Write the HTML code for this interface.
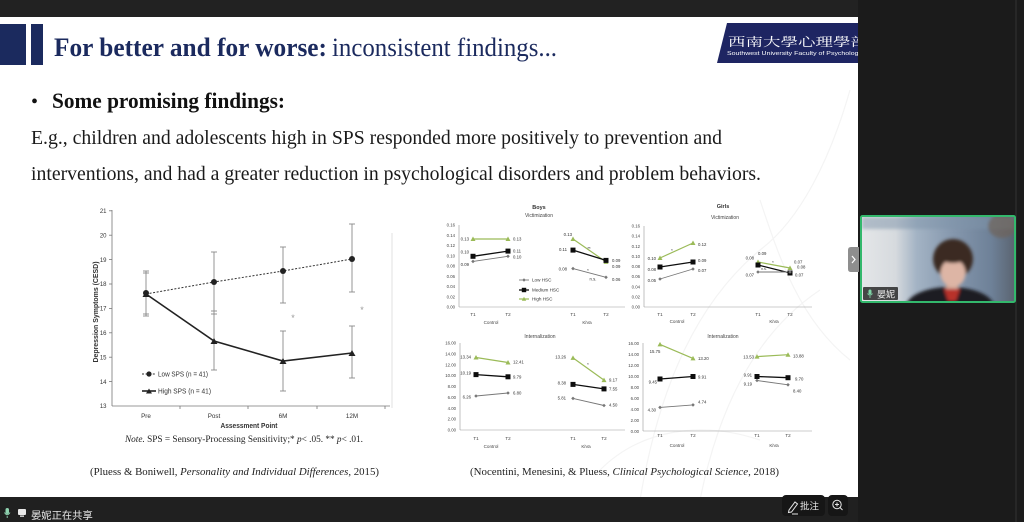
<!DOCTYPE html>
<html><head><meta charset="utf-8"><style>
html,body{margin:0;padding:0;background:#1e1e1e;}
svg{display:block;}
</style></head><body>
<svg width="1024" height="522" viewBox="0 0 1024 522" xmlns="http://www.w3.org/2000/svg">
<defs>
<clipPath id="slide"><rect x="0" y="17" width="858" height="480"/></clipPath>
<clipPath id="vid"><rect x="862" y="217" width="152" height="84"/></clipPath>
<linearGradient id="vbg" x1="0" y1="0" x2="1" y2="0">
<stop offset="0" stop-color="#e4e6e8"/><stop offset="0.22" stop-color="#d6dade"/>
<stop offset="0.36" stop-color="#a3b3c4"/><stop offset="0.6" stop-color="#8597ad"/>
<stop offset="0.85" stop-color="#6e8198"/><stop offset="1" stop-color="#5b6572"/>
</linearGradient>
<filter id="blur1"><feGaussianBlur stdDeviation="1.6"/></filter>
<filter id="blur0"><feGaussianBlur stdDeviation="0.35"/></filter>
</defs>

<!-- backgrounds -->
<rect width="1024" height="522" fill="#1e1e1e"/>
<rect x="0" y="0" width="858" height="17" fill="#222"/>
<rect x="858" y="0" width="166" height="522" fill="#1b1b1b"/>
<rect x="1015" y="0" width="2" height="522" fill="#272727"/>
<rect x="0" y="497" width="858" height="25" fill="#202020"/>
<rect x="0" y="17" width="858" height="480" fill="#ffffff"/>

<g clip-path="url(#slide)">
<!-- faint watermark -->
<g stroke="#f4f4f4" stroke-width="1.2" fill="none">
<path d="M640 500 C 660 380 700 300 760 250 C 800 220 830 160 850 90"/>
<path d="M700 500 C 720 400 760 330 820 290"/>
<path d="M760 200 C 780 260 800 320 850 360"/>
<path d="M600 470 C 640 430 700 420 760 440"/>
</g>
<!-- header bars -->
<rect x="0" y="24" width="26" height="41" fill="#1b2a5e"/>
<rect x="31" y="24" width="12" height="41" fill="#1b2a5e"/>
<text x="54" y="56" font-family="Liberation Serif, serif" font-weight="bold" font-size="26" fill="#1b2a5e" textLength="273" lengthAdjust="spacingAndGlyphs">For better and for worse:</text>
<text x="332" y="56" font-family="Liberation Serif, serif" font-size="26" fill="#1b2a5e" textLength="225" lengthAdjust="spacingAndGlyphs">inconsistent findings...</text>
<!-- logo -->
<polygon points="727,23 860,23 860,63 717,63" fill="#1e2562"/>
<text x="728" y="46" font-family="Noto Serif CJK SC, serif" font-size="12" fill="#fff" textLength="140" lengthAdjust="spacingAndGlyphs">西南大學心理學部</text>
<text x="727" y="55" font-family="Liberation Sans, sans-serif" font-size="5.6" fill="#fff" textLength="135" lengthAdjust="spacingAndGlyphs">Southwest University Faculty of Psychology</text>
</g>

<!-- body text -->
<text x="31" y="108" font-family="Liberation Serif, serif" font-size="20" fill="#111">•</text>
<text x="52" y="108" font-family="Liberation Serif, serif" font-weight="bold" font-size="22" fill="#111" textLength="233" lengthAdjust="spacingAndGlyphs">Some promising findings:</text>
<text x="31" y="144" font-family="Liberation Serif, serif" font-size="20" fill="#1a1a1a" textLength="691" lengthAdjust="spacingAndGlyphs">E.g., children and adolescents high in SPS responded more positively to prevention and</text>
<text x="31" y="180" font-family="Liberation Serif, serif" font-size="20" fill="#1a1a1a" textLength="730" lengthAdjust="spacingAndGlyphs">interventions, and had a greater reduction in psychological disorders and problem behaviors.</text>

<!-- LEFT CHART -->
<g font-family="Liberation Sans, sans-serif" fill="#333" filter="url(#blur0)">
<line x1="392" y1="233" x2="392" y2="408" stroke="#e2e2e2" stroke-width="1"/>
<line x1="112" y1="210" x2="112" y2="406" stroke="#777" stroke-width="0.8"/>
<line x1="112" y1="406" x2="390" y2="406" stroke="#777" stroke-width="0.8"/>
<g stroke="#777" stroke-width="0.8">
<line x1="109" y1="210.8" x2="112" y2="210.8"/><line x1="109" y1="235.2" x2="112" y2="235.2"/>
<line x1="109" y1="259.6" x2="112" y2="259.6"/><line x1="109" y1="284" x2="112" y2="284"/>
<line x1="109" y1="308.4" x2="112" y2="308.4"/><line x1="109" y1="332.8" x2="112" y2="332.8"/>
<line x1="109" y1="357.2" x2="112" y2="357.2"/><line x1="109" y1="381.6" x2="112" y2="381.6"/>
<line x1="180" y1="406" x2="180" y2="409"/><line x1="248" y1="406" x2="248" y2="409"/>
<line x1="317" y1="406" x2="317" y2="409"/><line x1="385" y1="406" x2="385" y2="409"/>
</g>
<g font-size="6" text-anchor="end">
<text x="106.5" y="213">21</text><text x="106.5" y="237.4">20</text><text x="106.5" y="261.8">19</text>
<text x="106.5" y="286.2">18</text><text x="106.5" y="310.6">17</text><text x="106.5" y="335">16</text>
<text x="106.5" y="359.4">15</text><text x="106.5" y="383.8">14</text><text x="106.5" y="408.2">13</text>
</g>
<g font-size="6.3" text-anchor="middle">
<text x="146" y="418">Pre</text><text x="214" y="418">Post</text><text x="283" y="418">6M</text><text x="352" y="418">12M</text>
</g>
<text x="249" y="428" font-size="7.5" font-weight="bold" text-anchor="middle" textLength="57" lengthAdjust="spacingAndGlyphs">Assessment Point</text>
<text transform="translate(98,312) rotate(-90)" font-size="7.2" font-weight="bold" text-anchor="middle" textLength="101" lengthAdjust="spacingAndGlyphs">Depression Symptoms (CESD)</text>
<!-- error bars -->
<g stroke="#8a8a8a" stroke-width="0.9">
<line x1="146" y1="271" x2="146" y2="316"/><line x1="143" y1="271" x2="149" y2="271"/><line x1="143" y1="273" x2="149" y2="273"/><line x1="143" y1="314" x2="149" y2="314"/><line x1="143" y1="316" x2="149" y2="316"/>
<line x1="214" y1="252" x2="214" y2="370"/><line x1="211" y1="252" x2="217" y2="252"/><line x1="211" y1="311" x2="217" y2="311"/><line x1="211" y1="314" x2="217" y2="314"/><line x1="211" y1="370" x2="217" y2="370"/>
<line x1="283" y1="247" x2="283" y2="303"/><line x1="280" y1="247" x2="286" y2="247"/><line x1="280" y1="303" x2="286" y2="303"/>
<line x1="283" y1="331" x2="283" y2="391"/><line x1="280" y1="331" x2="286" y2="331"/><line x1="280" y1="391" x2="286" y2="391"/>
<line x1="352" y1="224" x2="352" y2="292"/><line x1="349" y1="224" x2="355" y2="224"/><line x1="349" y1="292" x2="355" y2="292"/>
<line x1="352" y1="326" x2="352" y2="378"/><line x1="349" y1="326" x2="355" y2="326"/><line x1="349" y1="378" x2="355" y2="378"/>
</g>
<polyline points="146,294 214,282 283,271 352,259" fill="none" stroke="#333" stroke-width="1" stroke-dasharray="2,1.6"/>
<polyline points="146,294 214,341 283,361 352,353" fill="none" stroke="#222" stroke-width="1.6"/>
<g fill="#222">
<circle cx="146" cy="293" r="3"/><circle cx="214" cy="282" r="3"/><circle cx="283" cy="271" r="3"/><circle cx="352" cy="259" r="3"/>
<polygon points="146,291 142.5,297 149.5,297"/><polygon points="214,338 210.5,344 217.5,344"/><polygon points="283,358 279.5,364 286.5,364"/><polygon points="352,350 348.5,356 355.5,356"/>
</g>
<text x="293" y="321" font-size="9" fill="#999" text-anchor="middle">*</text>
<text x="362" y="313" font-size="9" fill="#999" text-anchor="middle">*</text>
<!-- legend -->
<line x1="142" y1="374" x2="156" y2="374" stroke="#333" stroke-width="1" stroke-dasharray="2,1.6"/>
<circle cx="149" cy="374" r="2.6" fill="#222"/>
<text x="158" y="376.5" font-size="7.3" textLength="50" lengthAdjust="spacingAndGlyphs">Low SPS (n = 41)</text>
<line x1="142" y1="391" x2="156" y2="391" stroke="#222" stroke-width="1.6"/>
<polygon points="149,388.5 146,393.5 152,393.5" fill="#222"/>
<text x="158" y="393.5" font-size="7.3" textLength="53" lengthAdjust="spacingAndGlyphs">High SPS (n = 41)</text>
</g>
<text x="125" y="442" font-family="Liberation Serif, serif" font-size="9.5" fill="#222" textLength="238" lengthAdjust="spacingAndGlyphs"><tspan font-style="italic">Note.</tspan> SPS = Sensory-Processing Sensitivity;* <tspan font-style="italic">p</tspan>&lt; .05.  ** <tspan font-style="italic">p</tspan>&lt; .01.</text>

<!-- captions -->
<text x="90" y="475" font-family="Liberation Serif, serif" font-size="11" fill="#222" textLength="289" lengthAdjust="spacingAndGlyphs">(Pluess &amp; Boniwell, <tspan font-style="italic">Personality and Individual Differences,</tspan> 2015)</text>
<text x="470" y="475" font-family="Liberation Serif, serif" font-size="11" fill="#222" textLength="309" lengthAdjust="spacingAndGlyphs">(Nocentini, Menesini, &amp; Pluess,  <tspan font-style="italic">Clinical Psychological Science</tspan>, 2018)</text>

<!-- RIGHT CHARTS -->
<g font-family="Liberation Sans, sans-serif" fill="#444" filter="url(#blur0)">
<!-- Panel TL -->
<text x="539" y="209" font-size="5.5" font-weight="bold" text-anchor="middle" fill="#333">Boys</text>
<text x="539" y="217" font-size="5" text-anchor="middle">Victimization</text>
<line x1="459" y1="225" x2="459" y2="307" stroke="#999" stroke-width="0.6"/>
<line x1="459" y1="307" x2="625" y2="307" stroke="#999" stroke-width="0.6"/>
<g font-size="4.3" text-anchor="end">
<text x="455" y="226.5">0.16</text><text x="455" y="236.8">0.14</text><text x="455" y="247">0.12</text><text x="455" y="257.3">0.10</text><text x="455" y="267.5">0.08</text><text x="455" y="277.8">0.06</text><text x="455" y="288">0.04</text><text x="455" y="298.3">0.02</text><text x="455" y="308.5">0.00</text>
</g>
<g font-size="4.6" text-anchor="middle">
<text x="473" y="316">T1</text><text x="508" y="316">T2</text><text x="491" y="324">Control</text>
<text x="573" y="316">T1</text><text x="606" y="316">T2</text><text x="587" y="324">KiVa</text>
</g>
<polyline points="473,239 508,239" stroke="#9bbb59" stroke-width="1.2" fill="none"/>
<polyline points="473,256.3 508,251.1" stroke="#111" stroke-width="1.3" fill="none"/>
<polyline points="473,261.4 508,256.3" stroke="#777" stroke-width="0.9" fill="none"/>
<polyline points="573,239 606,261.9" stroke="#9bbb59" stroke-width="1.2" fill="none"/>
<polyline points="573,250.1 606,260.4" stroke="#111" stroke-width="1.3" fill="none"/>
<polyline points="573,268.6 606,277.3" stroke="#777" stroke-width="0.9" fill="none"/>
<g fill="#9bbb59"><polygon points="473,236.5 470.5,241 475.5,241"/><polygon points="508,236.5 505.5,241 510.5,241"/><polygon points="573,236.5 570.5,241 575.5,241"/><polygon points="606,259.4 603.5,263.9 608.5,263.9"/></g>
<g fill="#111"><rect x="470.5" y="253.8" width="5" height="5"/><rect x="505.5" y="248.6" width="5" height="5"/><rect x="570.5" y="247.6" width="5" height="5"/><rect x="603.5" y="257.9" width="5" height="5"/></g>
<g fill="#777"><polygon points="473,259.6 474.8,261.4 473,263.2 471.2,261.4"/><polygon points="508,254.5 509.8,256.3 508,258.1 506.2,256.3"/><polygon points="573,266.8 574.8,268.6 573,270.4 571.2,268.6"/><polygon points="606,275.5 607.8,277.3 606,279.1 604.2,277.3"/></g>
<g font-size="4.3" fill="#333">
<text x="469" y="240.5" text-anchor="end">0.13</text><text x="469" y="253.5" text-anchor="end">0.10</text><text x="469" y="266" text-anchor="end">0.09</text>
<text x="513" y="240.5">0.13</text><text x="513" y="252.5">0.11</text><text x="513" y="258.5">0.10</text>
<text x="572" y="236" text-anchor="end">0.13</text><text x="567" y="251" text-anchor="end">0.11</text><text x="567" y="270.5" text-anchor="end">0.08</text>
<text x="612" y="262">0.09</text><text x="612" y="268">0.09</text><text x="612" y="281">0.06</text>
<text x="589" y="250" text-anchor="middle">**</text><text x="588" y="272" text-anchor="middle">*</text><text x="593" y="280.5" text-anchor="middle">n.s.</text>
</g>
<line x1="519" y1="280" x2="529" y2="280" stroke="#777" stroke-width="0.9"/><polygon points="524,278.3 525.7,280 524,281.7 522.3,280" fill="#777"/>
<line x1="519" y1="290" x2="529" y2="290" stroke="#111" stroke-width="1.3"/><rect x="521.8" y="287.8" width="4.4" height="4.4" fill="#111"/>
<line x1="519" y1="299" x2="529" y2="299" stroke="#9bbb59" stroke-width="1.2"/><polygon points="524,296.8 521.8,300.8 526.2,300.8" fill="#9bbb59"/>
<g font-size="4.6" fill="#333"><text x="532" y="281.5">Low HSC</text><text x="532" y="291.5">Medium HSC</text><text x="532" y="300.5">High HSC</text></g>

<!-- Panel TR -->
<text x="723" y="208" font-size="5.5" font-weight="bold" text-anchor="middle" fill="#333">Girls</text>
<text x="725" y="219" font-size="5" text-anchor="middle">Victimization</text>
<line x1="644" y1="226" x2="644" y2="307" stroke="#999" stroke-width="0.6"/>
<line x1="644" y1="307" x2="812" y2="307" stroke="#999" stroke-width="0.6"/>
<g font-size="4.3" text-anchor="end">
<text x="640" y="227.5">0.16</text><text x="640" y="237.6">0.14</text><text x="640" y="247.8">0.12</text><text x="640" y="257.9">0.10</text><text x="640" y="268">0.08</text><text x="640" y="278.2">0.06</text><text x="640" y="288.3">0.04</text><text x="640" y="298.4">0.02</text><text x="640" y="308.5">0.00</text>
</g>
<g font-size="4.6" text-anchor="middle">
<text x="660" y="316">T1</text><text x="693" y="316">T2</text><text x="677" y="323">Control</text>
<text x="758" y="316">T1</text><text x="790" y="316">T2</text><text x="774" y="323">KiVa</text>
</g>
<polyline points="660,258 693,243" stroke="#9bbb59" stroke-width="1.2" fill="none"/>
<polyline points="660,267 693,262" stroke="#111" stroke-width="1.3" fill="none"/>
<polyline points="660,279 693,269" stroke="#777" stroke-width="0.9" fill="none"/>
<polyline points="758,262 790,268" stroke="#9bbb59" stroke-width="1.2" fill="none"/>
<polyline points="758,265 790,273" stroke="#111" stroke-width="1.3" fill="none"/>
<polyline points="758,272 790,272" stroke="#777" stroke-width="0.9" fill="none"/>
<g fill="#9bbb59"><polygon points="660,255.5 657.5,260 662.5,260"/><polygon points="693,240.5 690.5,245 695.5,245"/><polygon points="758,259.5 755.5,264 760.5,264"/><polygon points="790,265.5 787.5,270 792.5,270"/></g>
<g fill="#111"><rect x="657.5" y="264.5" width="5" height="5"/><rect x="690.5" y="259.5" width="5" height="5"/><rect x="755.5" y="262.5" width="5" height="5"/><rect x="787.5" y="270.5" width="5" height="5"/></g>
<g fill="#777"><polygon points="660,277.2 661.8,279 660,280.8 658.2,279"/><polygon points="693,267.2 694.8,269 693,270.8 691.2,269"/><polygon points="758,270.2 759.8,272 758,273.8 756.2,272"/><polygon points="790,270.2 791.8,272 790,273.8 788.2,272"/></g>
<g font-size="4.3" fill="#333">
<text x="656" y="260" text-anchor="end">0.10</text><text x="656" y="271" text-anchor="end">0.08</text><text x="656" y="282" text-anchor="end">0.05</text>
<text x="698" y="246">0.12</text><text x="698" y="262">0.09</text><text x="698" y="272">0.07</text>
<text x="758" y="255">0.09</text><text x="754" y="259.5" text-anchor="end">0.08</text><text x="754" y="276.5" text-anchor="end">0.07</text>
<text x="794" y="263.5">0.07</text><text x="797" y="268.5">0.08</text><text x="795" y="276.5">0.07</text>
<text x="672" y="252" text-anchor="middle">*</text><text x="773" y="264" text-anchor="middle">*</text><text x="764" y="270" text-anchor="middle" font-size="3.5">n.s.</text>
</g>

<!-- Panel BL -->
<text x="540" y="338" font-size="5" text-anchor="middle">Internalization</text>
<line x1="460" y1="343" x2="460" y2="430" stroke="#999" stroke-width="0.6"/>
<line x1="460" y1="430" x2="625" y2="430" stroke="#999" stroke-width="0.6"/>
<g font-size="4.3" text-anchor="end">
<text x="456" y="344.5">16.00</text><text x="456" y="355.4">14.00</text><text x="456" y="366.3">12.00</text><text x="456" y="377.1">10.00</text><text x="456" y="388">8.00</text><text x="456" y="398.9">6.00</text><text x="456" y="409.8">4.00</text><text x="456" y="420.6">2.00</text><text x="456" y="431.5">0.00</text>
</g>
<g font-size="4.6" text-anchor="middle">
<text x="476" y="440">T1</text><text x="508" y="440">T2</text><text x="491" y="448">Control</text>
<text x="573" y="440">T1</text><text x="604" y="440">T2</text><text x="586" y="448">KiVa</text>
</g>
<polyline points="476,357.5 508,362.5" stroke="#9bbb59" stroke-width="1.2" fill="none"/>
<polyline points="476,374.6 508,376.8" stroke="#111" stroke-width="1.3" fill="none"/>
<polyline points="476,396 508,393" stroke="#777" stroke-width="0.9" fill="none"/>
<polyline points="573,357.9 604,380.1" stroke="#9bbb59" stroke-width="1.2" fill="none"/>
<polyline points="573,384.4 604,388.9" stroke="#111" stroke-width="1.3" fill="none"/>
<polyline points="573,398.4 604,405.5" stroke="#777" stroke-width="0.9" fill="none"/>
<g fill="#9bbb59"><polygon points="476,355 473.5,359.5 478.5,359.5"/><polygon points="508,360 505.5,364.5 510.5,364.5"/><polygon points="573,355.4 570.5,359.9 575.5,359.9"/><polygon points="604,377.6 601.5,382.1 606.5,382.1"/></g>
<g fill="#111"><rect x="473.5" y="372.1" width="5" height="5"/><rect x="505.5" y="374.3" width="5" height="5"/><rect x="570.5" y="381.9" width="5" height="5"/><rect x="601.5" y="386.4" width="5" height="5"/></g>
<g fill="#777"><polygon points="476,394.2 477.8,396 476,397.8 474.2,396"/><polygon points="508,391.2 509.8,393 508,394.8 506.2,393"/><polygon points="573,396.6 574.8,398.4 573,400.2 571.2,398.4"/><polygon points="604,403.7 605.8,405.5 604,407.3 602.2,405.5"/></g>
<g font-size="4.3" fill="#333">
<text x="471" y="358.5" text-anchor="end">13.34</text><text x="471" y="374.5" text-anchor="end">10.19</text><text x="471" y="398.5" text-anchor="end">6.26</text>
<text x="513" y="363.5">12.41</text><text x="513" y="378.5">9.79</text><text x="513" y="394.5">6.80</text>
<text x="566" y="358.5" text-anchor="end">13.26</text><text x="566" y="384.5" text-anchor="end">8.38</text><text x="566" y="399.5" text-anchor="end">5.81</text>
<text x="609" y="381.5">9.17</text><text x="609" y="390.5">7.55</text><text x="609" y="406.5">4.50</text>
<text x="588" y="366" text-anchor="middle">*</text>
</g>

<!-- Panel BR -->
<text x="723" y="338" font-size="5" text-anchor="middle">Internalization</text>
<line x1="643" y1="343" x2="643" y2="431" stroke="#999" stroke-width="0.6"/>
<line x1="643" y1="431" x2="812" y2="431" stroke="#999" stroke-width="0.6"/>
<g font-size="4.3" text-anchor="end">
<text x="639" y="344.8">16.00</text><text x="639" y="355.8">14.00</text><text x="639" y="366.8">12.00</text><text x="639" y="377.8">10.00</text><text x="639" y="388.8">8.00</text><text x="639" y="399.8">6.00</text><text x="639" y="410.8">4.00</text><text x="639" y="421.8">2.00</text><text x="639" y="432.8">0.00</text>
</g>
<g font-size="4.6" text-anchor="middle">
<text x="660" y="437">T1</text><text x="693" y="437">T2</text><text x="677" y="447">Control</text>
<text x="757" y="437">T1</text><text x="788" y="437">T2</text><text x="774" y="447">KiVa</text>
</g>
<polyline points="660,344.4 693,358.4" stroke="#9bbb59" stroke-width="1.2" fill="none"/>
<polyline points="660,379 693,376.5" stroke="#111" stroke-width="1.3" fill="none"/>
<polyline points="660,407.4 693,404.9" stroke="#777" stroke-width="0.9" fill="none"/>
<polyline points="757,356.6 788,354.7" stroke="#9bbb59" stroke-width="1.2" fill="none"/>
<polyline points="757,376.5 788,377.7" stroke="#111" stroke-width="1.3" fill="none"/>
<polyline points="757,380.5 788,384.8" stroke="#777" stroke-width="0.9" fill="none"/>
<g fill="#9bbb59"><polygon points="660,341.9 657.5,346.4 662.5,346.4"/><polygon points="693,355.9 690.5,360.4 695.5,360.4"/><polygon points="757,354.1 754.5,358.6 759.5,358.6"/><polygon points="788,352.2 785.5,356.7 790.5,356.7"/></g>
<g fill="#111"><rect x="657.5" y="376.5" width="5" height="5"/><rect x="690.5" y="374" width="5" height="5"/><rect x="754.5" y="374" width="5" height="5"/><rect x="785.5" y="375.2" width="5" height="5"/></g>
<g fill="#777"><polygon points="660,405.6 661.8,407.4 660,409.2 658.2,407.4"/><polygon points="693,403.1 694.8,404.9 693,406.7 691.2,404.9"/><polygon points="757,378.7 758.8,380.5 757,382.3 755.2,380.5"/><polygon points="788,383 789.8,384.8 788,386.6 786.2,384.8"/></g>
<g font-size="4.3" fill="#333">
<text x="655" y="353" text-anchor="middle">15.75</text><text x="657" y="383.5" text-anchor="end">9.45</text><text x="656" y="411.5" text-anchor="end">4.30</text>
<text x="698" y="360">13.20</text><text x="698" y="378.5">9.91</text><text x="698" y="403.5">4.74</text>
<text x="754" y="358.5" text-anchor="end">13.53</text><text x="752" y="376.5" text-anchor="end">9.91</text><text x="752" y="385.5" text-anchor="end">9.19</text>
<text x="793" y="357.5">13.88</text><text x="795" y="380.5">9.70</text><text x="793" y="392.5">8.40</text>
</g>
</g>

<!-- side tab -->
<path d="M851 247 H859 V272 H851 Q848 272 848 269 V250 Q848 247 851 247 Z" fill="#8e8e8e"/>
<path d="M852 256 L855 259.5 L852 263" stroke="#fff" stroke-width="1.2" fill="none"/>

<!-- video tile -->
<g clip-path="url(#vid)">
<rect x="862" y="217" width="152" height="84" fill="url(#vbg)"/>
<g filter="url(#blur1)">
<rect x="862" y="217" width="152" height="12" fill="#7f93aa" opacity="0.5"/>
<ellipse cx="1002" cy="226" rx="14" ry="12" fill="#6e6258" opacity="0.7"/>
<ellipse cx="950" cy="307" rx="44" ry="20" fill="#1f1c22"/>
<rect x="946" y="280" width="12" height="10" fill="#cfa595"/>
<polygon points="944,289 960,289 956,301 948,301" fill="#b8302c"/>
<ellipse cx="953" cy="259" rx="20" ry="20" fill="#3a2a23"/>
<ellipse cx="953" cy="273" rx="12.5" ry="14" fill="#ddb5a5"/>
<ellipse cx="953" cy="257" rx="13" ry="6" fill="#3a2a23"/>
</g>
</g>
<rect x="861" y="216" width="154" height="86" fill="none" stroke="#33b86c" stroke-width="2" rx="1.5"/>
<rect x="863" y="287" width="35" height="13" fill="#1e1e1e" opacity="0.8" rx="1"/>
<rect x="868.5" y="289.5" width="3" height="5" rx="1.5" fill="#7fd4a6"/>
<path d="M867.5 293.5 Q870 297 872.5 293.5 M870 296 V298" stroke="#7fd4a6" stroke-width="0.8" fill="none"/>
<text x="877" y="297.5" font-family="Liberation Sans, Noto Sans CJK SC, sans-serif" font-size="9" fill="#f0f0f0">晏妮</text>

<!-- bottom bar -->
<rect x="5.5" y="508" width="3.5" height="6" rx="1.7" fill="#8fd3b0"/>
<path d="M4.5 512.5 Q7.2 517 10 512.5 M7.2 516 V518" stroke="#8fd3b0" stroke-width="0.9" fill="none"/>
<rect x="18" y="509" width="8" height="6" rx="1" fill="#e8e8e8"/>
<rect x="20" y="515.5" width="4" height="1.3" fill="#e8e8e8"/>
<text x="31" y="519" font-family="Liberation Sans, Noto Sans CJK SC, sans-serif" font-size="10.3" fill="#e8e8e8">晏妮正在共享</text>
<rect x="782" y="495" width="43" height="21" rx="4" fill="#161616"/>
<path d="M789 510 L795 502 L797.5 504 L791.5 512 L788.5 512.5 Z M792 514 H798" stroke="#e6e6e6" stroke-width="1" fill="none"/>
<text x="800" y="509.5" font-family="Liberation Sans, Noto Sans CJK SC, sans-serif" font-size="9.5" fill="#e6e6e6">批注</text>
<rect x="828" y="495" width="20" height="21" rx="4" fill="#161616"/>
<circle cx="837" cy="504.5" r="4.2" stroke="#e6e6e6" stroke-width="1" fill="none"/>
<path d="M840 507.5 L842.5 510 M835 504.5 H839 M837 502.5 V506.5" stroke="#e6e6e6" stroke-width="1" fill="none"/>
</svg>
</body></html>
